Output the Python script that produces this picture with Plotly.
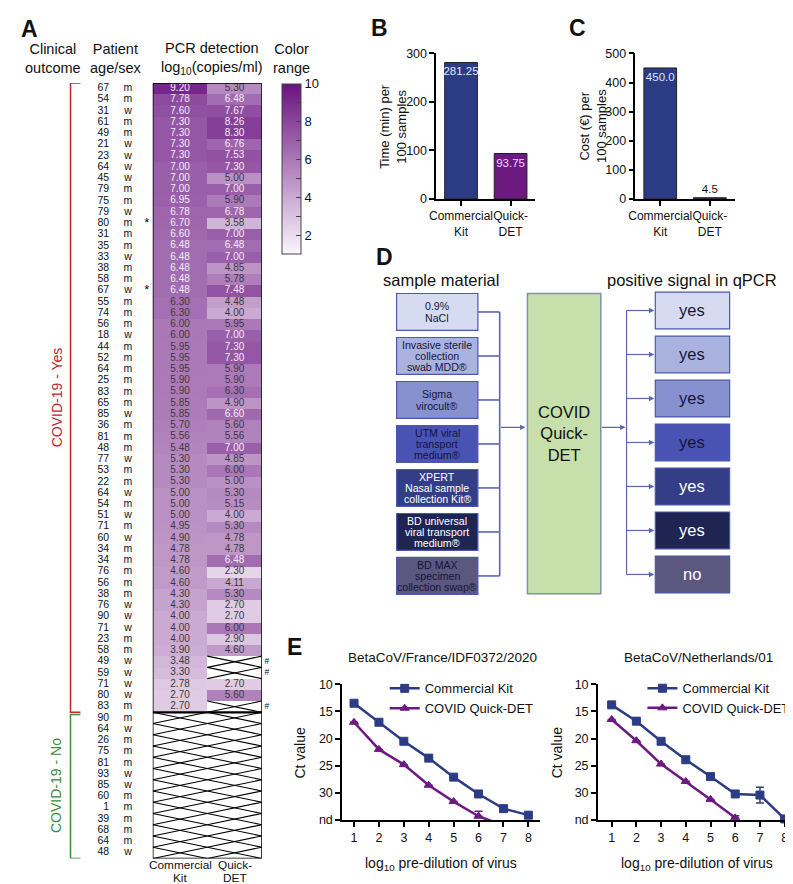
import plotly.graph_objects as go

W, H = 793, 884
def px(x): return x / W
def py(y): return 1 - y / H

FONT = "Liberation Sans, Arial, sans-serif"
INK = "#111111"

# ---------------- Panel A data ----------------
ages = [67, 54, 31, 61, 49, 21, 23, 64, 45, 79, 75, 79, 80, 31, 35, 33, 38, 58, 67, 55,
        74, 56, 18, 44, 52, 64, 25, 83, 65, 85, 36, 81, 48, 77, 53, 22, 64, 54, 51, 71,
        60, 34, 34, 76, 56, 38, 76, 90, 71, 23, 58, 49, 59, 71, 80, 83,
        90, 64, 26, 75, 81, 93, 85, 60, 1, 39, 68, 64, 48]
sexes = ("m m w m m w w w w m m w m m m w m m w m m m w m m m m m m w m m m w m m w m w m "
         "w m m m m m w w w m m w w w w m "
         "m w m m m w w m m m m m w").split()
commercial_kit = [9.20, 7.78, 7.60, 7.30, 7.30, 7.30, 7.30, 7.00, 7.00, 7.00, 6.95, 6.78,
                  6.70, 6.60, 6.48, 6.48, 6.48, 6.48, 6.48, 6.30, 6.30, 6.00, 6.00, 5.95,
                  5.95, 5.95, 5.90, 5.90, 5.85, 5.85, 5.70, 5.56, 5.48, 5.30, 5.30, 5.30,
                  5.00, 5.00, 5.00, 4.95, 4.90, 4.78, 4.78, 4.60, 4.60, 4.30, 4.30, 4.00,
                  4.00, 4.00, 3.90, 3.48, 3.30, 2.78, 2.70, 2.70] + [None] * 13
quick_det = [5.30, 6.48, 7.67, 8.26, 8.30, 6.76, 7.53, 7.30, 5.00, 7.00, 5.90, 6.78,
             3.58, 7.00, 6.48, 7.00, 4.85, 5.78, 7.48, 4.48, 4.00, 5.95, 7.00, 7.30,
             7.30, 5.90, 5.90, 6.30, 4.90, 6.60, 5.60, 5.56, 7.00, 4.85, 6.00, 5.00,
             5.30, 5.15, 4.00, 5.30, 4.78, 4.78, 6.48, 2.30, 4.11, 5.30, 2.70, 2.70,
             6.00, 2.90, 4.60, None, None, 2.70, 5.60, None] + [None] * 13
n_yes, n_no = 56, 13
starred_rows = [12, 18]
heat_cols = [["Commercial", "Kit"], ["Quick-", "DET"]]

# ---------------- Panel B / C data ----------------
kits = ["Commercial<br>Kit", "Quick-<br>DET"]
time_per_100 = [281.25, 93.75]
cost_per_100 = [450.0, 4.5]

# ---------------- Panel D data ----------------
sample_materials = [["0.9%", "NaCl"], ["Invasive sterile", "collection", "swab MDD®"], ["Sigma", "virocult®"],
                    ["UTM viral", "transport", "medium®"], ["XPERT", "Nasal sample", "collection Kit®"],
                    ["BD universal", "viral transport", "medium®"], ["BD MAX", "specimen", "collection swap®"]]
qpcr_positive = ["yes", "yes", "yes", "yes", "yes", "yes", "no"]
box_fill = ["#d6dbf1", "#aab3e0", "#8791d0", "#4853b3", "#343e86", "#1f2553", "#5c577f"]
left_text_col = ["#15153a", "#15153a", "#15153a", "#15153a", "#ffffff", "#ffffff", "#15153a"]
right_text_col = ["#15153a", "#15153a", "#15153a", "#15153a", "#ffffff", "#ffffff", "#ffffff"]

# ---------------- Panel E data ----------------
dilution = [1, 2, 3, 4, 5, 6, 7, 8]
fr_commercial = [13.5, 17.0, 20.5, 23.6, 27.1, 30.2, 32.9, 34.1]
fr_quick = [17.0, 22.0, 24.8, 28.6, 31.6, 34.3, 36.0]   # 7th: below "nd" (not detected)
fr_quick_err = [0, 0, 0, 0, 0, 0.9, 0]
nl_commercial = [13.8, 16.8, 20.5, 23.9, 27.0, 30.2, 30.4, 34.8]
nl_commercial_err = [0, 0, 0, 0, 0, 0, 1.45, 0]
nl_quick = [16.5, 20.4, 24.7, 27.9, 31.2, 34.6]
nl_quick_err = [0, 0, 0, 0, 0, 0.4]
ct_ticks = [10, 15, 20, 25, 30, 35]
ct_ticktext = ["10", "15", "20", "25", "30", "nd"]

NAVY = "#2c3c84"
PURP = "#6c1a80"

fig = go.Figure()
n = len(ages)

# ---- heatmap ----
z = [[c, q] for c, q in zip(commercial_kit, quick_det)]
fig.add_trace(go.Heatmap(
    x=[0, 1], y=list(range(n)), z=z, zmin=1, zmax=10,
    colorscale=[[0, "#faf6fb"], [1, "#6a1380"]],
    xaxis="x", yaxis="y", hoverinfo="skip",
    colorbar=dict(x=px(269), xanchor="left", y=py(70), yanchor="top",
                  len=170, lenmode="pixels", thickness=19, thicknessmode="pixels",
                  outlinewidth=1, outlinecolor="#444", xpad=0, ypad=0,
                  tickvals=[2, 3, 4, 5, 6, 7, 8, 9, 10],
                  ticktext=["2", "", "4", "", "6", "", "8", "", "10"],
                  ticks="inside", ticklen=5, tickcolor="#444",
                  tickfont=dict(size=13, family=FONT, color=INK))))

tx, ty, tt, tc = [], [], [], []
for r, (c, q) in enumerate(zip(commercial_kit, quick_det)):
    for ci, v in enumerate((c, q)):
        if v is not None:
            tx.append(ci); ty.append(r); tt.append(f"{v:.2f}")
            tc.append("#f3ecf6" if v >= 6.45 else "#3a3a3a")
fig.add_trace(go.Scatter(x=tx, y=ty, text=tt, mode="text", xaxis="x", yaxis="y",
                         textfont=dict(size=10, color=tc, family=FONT),
                         hoverinfo="skip", showlegend=False))

# crosses for non-detected cells
cx, cy = [], []
for r, (c, q) in enumerate(zip(commercial_kit, quick_det)):
    for ci, v in enumerate((c, q)):
        if v is None:
            cx += [ci - 0.5, ci + 0.5, None, ci - 0.5, ci + 0.5, None]
            cy += [r - 0.5, r + 0.5, None, r + 0.5, r - 0.5, None]
fig.add_trace(go.Scatter(x=cx, y=cy, mode="lines", line=dict(color="black", width=1.1),
                         xaxis="x", yaxis="y", hoverinfo="skip", showlegend=False))

# age / sex / flags
rows = list(range(n))
hash_rows = [r for r in rows if commercial_kit[r] is not None and quick_det[r] is None]
fig.add_trace(go.Scatter(x=[95] * n, y=rows, text=[str(a) for a in ages], mode="text",
                         textposition="middle left", textfont=dict(size=10.5, family=FONT, color=INK),
                         xaxis="x2", yaxis="y", hoverinfo="skip", showlegend=False))
fig.add_trace(go.Scatter(x=[114] * n, y=rows, text=sexes, mode="text",
                         textfont=dict(size=10.5, family=FONT, color=INK),
                         xaxis="x2", yaxis="y", hoverinfo="skip", showlegend=False))
fig.add_trace(go.Scatter(x=[133] * len(starred_rows), y=starred_rows, text=["*"] * len(starred_rows),
                         mode="text", textfont=dict(size=13, family=FONT, color=INK),
                         xaxis="x2", yaxis="y", hoverinfo="skip", showlegend=False))
fig.add_trace(go.Scatter(x=[254] * len(hash_rows), y=hash_rows, text=["#"] * len(hash_rows),
                         mode="text", textfont=dict(size=8.5, family=FONT, color=INK),
                         xaxis="x2", yaxis="y", hoverinfo="skip", showlegend=False))

# ---- Panel B ----
fig.add_trace(go.Bar(x=kits, y=time_per_100, width=0.66, xaxis="x3", yaxis="y3",
                     marker=dict(color=[NAVY, PURP], line=dict(color="#222", width=1)),
                     texttemplate="%{y:.2f}", textposition="inside", insidetextanchor="end",
                     constraintext="none", textangle=0,
                     textfont=dict(size=11.5, family=FONT, color=["#dfe6ff", "#f6d8f6"]),
                     hoverinfo="skip", showlegend=False))
# ---- Panel C ----
fig.add_trace(go.Bar(x=kits, y=cost_per_100, width=0.66, xaxis="x4", yaxis="y4",
                     marker=dict(color=[NAVY, PURP], line=dict(color="#222", width=1)),
                     texttemplate="%{y:.1f}", textposition=["inside", "outside"], insidetextanchor="end",
                     constraintext="none", cliponaxis=False, textangle=0,
                     textfont=dict(size=11.5, family=FONT, color=["#dfe6ff", INK]),
                     hoverinfo="skip", showlegend=False))

# ---- Panel E ----
def ct_trace(x, y, err_minus, err_plus, color, symbol, name, xa, ya, leg, clip=False):
    return go.Scatter(x=x, y=y, mode="lines+markers", name=name, xaxis=xa, yaxis=ya, legend=leg,
                      line=dict(color=color, width=2.5),
                      marker=dict(symbol=symbol, size=8, color=color, line=dict(color=color, width=1)),
                      error_y=dict(type="data", symmetric=False, array=err_plus, arrayminus=err_minus,
                                   color=color, thickness=1.5, width=4),
                      hoverinfo="skip", cliponaxis=clip)

fig.add_trace(ct_trace(dilution, fr_commercial, [0] * 8, [0] * 8, NAVY, "square", "Commercial Kit", "x5", "y5", "legend"))
fig.add_trace(ct_trace(dilution[:len(fr_quick)], fr_quick, fr_quick_err, [0] * len(fr_quick), PURP, "triangle-up",
                       "COVID Quick-DET", "x5", "y5", "legend", clip=True))
fig.add_trace(ct_trace(dilution, nl_commercial, nl_commercial_err, nl_commercial_err, NAVY, "square",
                       "Commercial Kit", "x6", "y6", "legend2"))
fig.add_trace(ct_trace(dilution[:len(nl_quick)], nl_quick, nl_quick_err, [0] * len(nl_quick), PURP, "triangle-up",
                       "COVID Quick-DET", "x6", "y6", "legend2"))

ax_common = dict(showgrid=False, zeroline=False, showline=True, linecolor="black", linewidth=1.5,
                 ticks="outside", ticklen=5, tickwidth=1.5, tickcolor="black", tickangle=0,
                 tickfont=dict(size=12.5, family=FONT, color=INK))
ax_bar_x = dict(ax_common, tickfont=dict(size=12, family=FONT, color=INK))

layout = dict(
    width=W, height=H, autosize=False, margin=dict(l=0, r=0, t=0, b=0),
    paper_bgcolor="white", plot_bgcolor="rgba(0,0,0,0)",
    font=dict(family=FONT, color=INK),
    xaxis=dict(domain=[px(139), px(249)], range=[-0.5, 1.5], anchor="y", showticklabels=False,
               ticks="", showgrid=False, zeroline=False, showline=False),
    yaxis=dict(domain=[py(857), py(69)], range=[n - 0.5, -0.5], anchor="x", visible=False,
               showgrid=False, zeroline=False),
    xaxis2=dict(domain=[0, 1], range=[0, W], anchor="y", visible=False, showgrid=False, zeroline=False),
    xaxis3=dict(domain=[px(425), px(525)], range=[-0.5, 1.5], anchor="y3", **ax_bar_x),
    yaxis3=dict(domain=[py(187), py(39)], range=[0, 300], anchor="x3", tickvals=[0, 100, 200, 300], **ax_common),
    xaxis4=dict(domain=[px(626), px(726)], range=[-0.5, 1.5], anchor="y4", **ax_bar_x),
    yaxis4=dict(domain=[py(187), py(39)], range=[0, 500], anchor="x4",
                tickvals=[0, 100, 200, 300, 400, 500], **ax_common),
    xaxis5=dict(domain=[px(330), px(530)], range=[0.52, 8.48], anchor="y5", tickvals=dilution, **ax_common),
    yaxis5=dict(domain=[py(818), py(680)], range=[35, 10], anchor="x5", tickvals=ct_ticks,
                ticktext=ct_ticktext, **ax_common),
    xaxis6=dict(domain=[px(588), px(784)], range=[0.44, 8.3], anchor="y6", tickvals=dilution, **ax_common),
    yaxis6=dict(domain=[py(818), py(680)], range=[35, 10], anchor="x6", tickvals=ct_ticks,
                ticktext=ct_ticktext, **ax_common),
    legend=dict(x=px(373), y=py(669), xanchor="left", yanchor="top", bgcolor="rgba(0,0,0,0)",
                font=dict(size=13, family=FONT, color=INK), tracegroupgap=0),
    legend2=dict(x=px(633), y=py(669), xanchor="left", yanchor="top", bgcolor="rgba(0,0,0,0)",
                 font=dict(size=12.8, family=FONT, color=INK), tracegroupgap=0),
)
fig.update_layout(**layout)

shapes, ann = [], []

def note(text, x, y, size=14, color=INK, bold=False, angle=0, xanchor="center", yref="paper", yval=None,
         family=FONT):
    ann.append(dict(text=f"<b>{text}</b>" if bold else text, x=px(x), y=py(y) if yval is None else yval,
                    xref="paper", yref=yref, showarrow=False, textangle=angle, xanchor=xanchor,
                    yanchor="middle", font=dict(size=size, family=family, color=color)))

# Panel letters
note("A", 4, 14, 23, bold=True, xanchor="left")
note("B", 357, 13, 23, bold=True, xanchor="left")
note("C", 557, 13, 23, bold=True, xanchor="left")
note("D", 362, 246, 23, bold=True, xanchor="left")
note("E", 272, 642, 23, bold=True, xanchor="left")

# Panel A headers
note("Clinical<br>outcome", 38, 44, 14.5)
note("Patient<br>age/sex", 102, 44, 14.5)
note("PCR detection<br>log<sub>10</sub>(copies/ml)", 199, 44, 14.5)
note("Color<br>range", 279, 44, 14.5)

# heatmap column labels
for ci, lines in enumerate(heat_cols):
    xc = 139 + 27.5 + ci * 55
    for li, s in enumerate(lines):
        note(s, xc, 864 + li * 12.5, 11.8)

# brackets
RED, GREEN = "#c0262c", "#3b8c3b"
xb0, xb1 = px(56), px(66)
shapes.append(dict(type="path", xref="paper", yref="y",
                   path=f"M {xb1} -0.5 L {xb0} -0.5 L {xb0} {n_yes - 0.5} L {xb1} {n_yes - 0.5}",
                   line=dict(color=RED, width=1.5)))
shapes.append(dict(type="path", xref="paper", yref="y",
                   path=f"M {xb1} {n_yes - 0.3} L {xb0} {n_yes - 0.3} L {xb0} {n - 0.5} L {xb1} {n - 0.5}",
                   line=dict(color=GREEN, width=1.5)))
note("COVID-19 - Yes", 42, 0, 14, color=RED, angle=-90, yref="y", yval=(n_yes - 1) / 2)
note("COVID-19 - No", 42, 0, 14, color=GREEN, angle=-90, yref="y", yval=n_yes + (n_no - 1) / 2)

# heatmap frame + separator
shapes.append(dict(type="rect", xref="x", yref="y", x0=-0.5, x1=1.5, y0=-0.5, y1=n - 0.5,
                   line=dict(color="black", width=1.5)))
shapes.append(dict(type="line", xref="x", yref="y", x0=-0.5, x1=1.5, y0=n_yes - 0.5, y1=n_yes - 0.5,
                   line=dict(color="black", width=2.2)))

# B / C y titles
note("Time (min) per<br>100 samples", 382, 113, 13, angle=-90)
note("Cost (€) per<br>100 samples", 583, 113, 13, angle=-90)

# ---- Panel D diagram ----
LINE = "#5a67b2"
note("sample material", 430, 269, 16.5)
note("positive signal in qPCR", 683, 269, 16.5)
top0, step, bh = 283, 44.7, 37.5
centers = []
for i, (lab, ans) in enumerate(zip(sample_materials, qpcr_positive)):
    t = top0 + i * step
    c = t + bh / 2
    centers.append(c)
    shapes.append(dict(type="rect", xref="paper", yref="paper", x0=px(385), x1=px(467), y0=py(t + bh), y1=py(t),
                       fillcolor=box_fill[i], line=dict(color="#4b59a8", width=1.2)))
    shapes.append(dict(type="rect", xref="paper", yref="paper", x0=px(646), x1=px(721), y0=py(t - 1.5 + bh), y1=py(t - 1.5),
                       fillcolor=box_fill[i], line=dict(color="#4b59a8", width=1.2)))
    nl = len(lab)
    for li, s in enumerate(lab):
        note(s, 426, c + (li - (nl - 1) / 2) * 11.6, 10.6, color=left_text_col[i])
    note(ans, 683.5, c - 1.5, 16.5, color=right_text_col[i])
    shapes.append(dict(type="line", xref="paper", yref="paper", x0=px(467), x1=px(489), y0=py(c), y1=py(c),
                       line=dict(color=LINE, width=1.6)))
    shapes.append(dict(type="line", xref="paper", yref="paper", x0=px(617), x1=px(640), y0=py(c - 1.5), y1=py(c - 1.5),
                       line=dict(color=LINE, width=1.2)))
    ann.append(dict(x=px(645), y=py(c - 1.5), xref="paper", yref="paper", text="", showarrow=True,
                    ax=-8, ay=0, arrowhead=2, arrowsize=0.9, arrowwidth=1.2, arrowcolor=LINE))
shapes.append(dict(type="line", xref="paper", yref="paper", x0=px(489), x1=px(489), y0=py(centers[0]), y1=py(centers[-1]),
                   line=dict(color=LINE, width=1.6)))
shapes.append(dict(type="line", xref="paper", yref="paper", x0=px(617), x1=px(617), y0=py(centers[0] - 1.5),
                   y1=py(centers[-1] - 1.5), line=dict(color=LINE, width=1.2)))
shapes.append(dict(type="rect", xref="paper", yref="paper", x0=px(517), x1=px(591), y0=py(588), y1=py(283),
                   fillcolor="#c6dfab", line=dict(color="#7e90b4", width=1.5)))
note("COVID<br>Quick-<br>DET", 554, 425, 16.5)
ann.append(dict(x=px(515), y=py(419), xref="paper", yref="paper", text="", showarrow=True,
                ax=-26, ay=0, arrowhead=2, arrowsize=0.9, arrowwidth=1.2, arrowcolor=LINE))
ann.append(dict(x=px(616), y=py(419), xref="paper", yref="paper", text="", showarrow=True,
                ax=-25, ay=0, arrowhead=2, arrowsize=0.9, arrowwidth=1.2, arrowcolor=LINE))

# ---- Panel E labels ----
note("BetaCoV/France/IDF0372/2020", 431, 653, 13.5)
note("BetaCoV/Netherlands/01", 690, 653, 13.5)
note("Ct value", 288, 749, 14, angle=-90)
note("Ct value", 547, 749, 14, angle=-90)
note("log<sub>10</sub> pre-dilution of virus", 430, 863, 14)
note("log<sub>10</sub> pre-dilution of virus", 688, 863, 14)

fig.update_layout(shapes=shapes, annotations=ann)
fig.write_html("out.html")
